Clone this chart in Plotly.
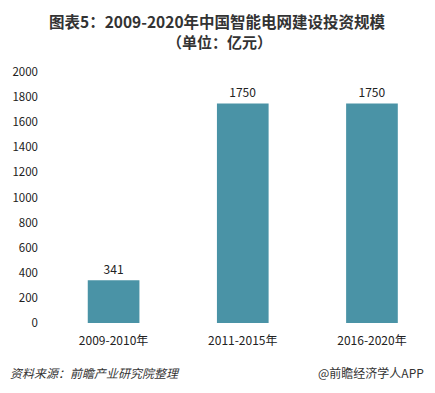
import plotly.graph_objects as go

categories = ["2009-2010年", "2011-2015年", "2016-2020年"]
values = [341, 1750, 1750]
y_ticks = [0, 200, 400, 600, 800, 1000, 1200, 1400, 1600, 1800, 2000]

fig = go.Figure()
fig.add_trace(go.Bar(
    x=categories, y=values, width=0.40,
    marker=dict(color="#4A93A6", line=dict(width=0)),
    text=[str(v) for v in values], textposition="outside",
    textfont=dict(size=12, color="#222"), cliponaxis=False,
))

font = "Noto Sans CJK SC, Open Sans, sans-serif"
L, R, T, B, W, H = 49, 0, 72, 70, 435, 393
fig.update_layout(
    width=W, height=H,
    margin=dict(l=L, r=R, t=T, b=B),
    paper_bgcolor="white", plot_bgcolor="white",
    font=dict(family=font, color="#222"),
    showlegend=False,
    xaxis=dict(range=[-0.5, 2.488], showline=False, showgrid=False, ticks="",
               tickfont=dict(size=12, color="#222"), ticklabelstandoff=9, automargin=False),
    yaxis=dict(range=[0, 2000], tickvals=y_ticks, showgrid=False, showline=False,
               zeroline=False, ticks="", tickfont=dict(size=11.5, color="#222"),
               ticklabelstandoff=10, automargin=False),
)

H_PLOT = H - T - B
W_PLOT = W - L - R
def ypix(py):
    return (H - B - py) / H_PLOT
def xpix(px):
    return (px - L) / W_PLOT

fig.add_annotation(text="<b>图表5：2009-2020年中国智能电网建设投资规模</b>", xref="paper", yref="paper",
                   x=xpix(217), y=ypix(21), xanchor="center", yanchor="middle",
                   showarrow=False, font=dict(size=15.5, color="#333"))
fig.add_annotation(text="<b>（单位：亿元）</b>", xref="paper", yref="paper",
                   x=xpix(219), y=ypix(41), xanchor="center", yanchor="middle",
                   showarrow=False, font=dict(size=15, color="#333"))
fig.add_annotation(text="<i>资料来源：前瞻产业研究院整理</i>", xref="paper", yref="paper",
                   x=xpix(8), y=ypix(372), xanchor="left", yanchor="middle",
                   showarrow=False, font=dict(size=12, color="#333"))
fig.add_annotation(text="@前瞻经济学人APP", xref="paper", yref="paper",
                   x=xpix(426), y=ypix(372), xanchor="right", yanchor="middle",
                   showarrow=False, font=dict(size=12, color="#333"))

fig.write_html("out.html", config={"displayModeBar": False},
               post_script="document.body.style.margin='0';document.body.style.overflow='hidden';")
